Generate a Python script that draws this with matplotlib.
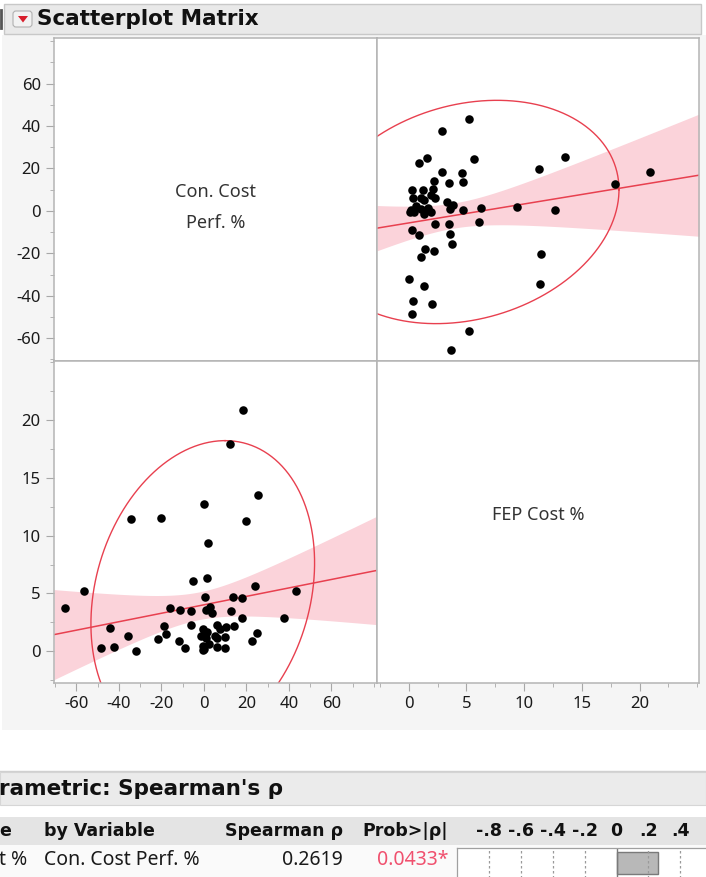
"""
Scatterplot matrix of FEP Cost % against Con. Cost Perf. % with the
nonparametric (Spearman) summary row underneath, in the JMP report style.
"""
import matplotlib
matplotlib.use('Agg')
import matplotlib.pyplot as plt
from matplotlib.patches import Rectangle, FancyBboxPatch, Polygon
from matplotlib.ticker import FixedLocator, MultipleLocator, NullFormatter
import numpy as np

plt.rcParams['font.family'] = ['Noto Sans', 'DejaVu Sans']
plt.rcParams['axes.unicode_minus'] = False

# Data (one entry per row)
fep_cost = [5.2, 2.85, 1.6, 0.85, 5.65, 13.5, 11.3, 20.9, 17.9, 2.9,
            4.6, 4.7, 2.2, 3.5, 0.25, 1.2, 2.1, 0.35, 1.9, 2.3,
            1.1, 1.3, 3.3, 3.85, 3.55, 0.2, 0.45, 0.1, 1.7, 1.1,
            1.9, 1.3, 4.7, 6.3, 9.4, 12.7, 6.1, 2.3, 3.5, 0.3,
            0.85, 3.6, 3.75, 1.45, 2.2, 1.05, 11.5, 0.05, 1.35, 11.4,
            0.4, 2.05, 0.25, 5.2, 3.7, 0.6]
con_cost = [43.3, 37.8, 25.0, 22.5, 24.3, 25.5, 19.7, 18.5, 12.5, 18.2,
            18.0, 13.8, 14.2, 13.0, 9.8, 9.8, 10.3, 6.2, 7.6, 6.2,
            6.1, 5.3, 4.0, 2.8, 1.0, 0.3, -0.3, -0.5, 1.6, 0.8,
            -0.5, -1.5, 0.6, 1.3, 2.0, 0.3, -5.2, -6.1, -6.2, -8.8,
            -11.5, -11.0, -15.8, -17.8, -18.8, -21.5, -20.3, -32.0, -35.5, -34.5,
            -42.5, -44.0, -48.5, -56.5, -65.5, 2.4]

fep_label = 'FEP Cost %'
con_label = 'Con. Cost\nPerf. %'
fep_limits = (-2.75, 25.15)
con_limits = (-70.5, 81.5)
fep_ticks = [0, 5, 10, 15, 20]
con_ticks = [-60, -40, -20, 0, 20, 40, 60]

# Density ellipse as drawn in the report (fep, con)
ellipse_center = (5.0, -0.5)
ellipse_sd = (5.4, 21.5)
ellipse_r = 0.20
ellipse_coverage = 0.95
t_crit = 2.005

# Spearman summary row
spearman_variable = 't %'
spearman_by = 'Con. Cost Perf. %'
spearman_rho = 0.2619
spearman_p = 0.0433
scale_ticks = [-0.8, -0.6, -0.4, -0.2, 0.0, 0.2, 0.4, 0.6]
scale_labels = ['-.8', '-.6', '-.4', '-.2', '0', '.2', '.4', '.']

W, H = 706, 877
RED = '#e8404f'
BAND = '#fbd3da'
EDGE = '#b4b4b4'
BOLD = dict(family=['DejaVu Sans'], fontweight='bold', color='#111111')


def px_axes(fig, x0, y0, x1, y1):
    """Add an axes given its box in pixels from the top left corner."""
    return fig.add_axes([x0 / W, 1 - y1 / H, (x1 - x0) / W, (y1 - y0) / H])


def fit_band(x, y, xs):
    """Least squares line and 95% confidence band for the mean."""
    x = np.asarray(x, float)
    y = np.asarray(y, float)
    n = len(x)
    b, a = np.polyfit(x, y, 1)
    resid = y - (a + b * x)
    s = np.sqrt(np.sum(resid ** 2) / (n - 2))
    sxx = np.sum((x - x.mean()) ** 2)
    fit = a + b * xs
    half = t_crit * s * np.sqrt(1.0 / n + (xs - x.mean()) ** 2 / sxx)
    return fit, fit - half, fit + half


def ellipse_points():
    """Points on the density ellipse, returned as (fep, con)."""
    sx, sy = ellipse_sd
    cov = np.array([[sx * sx, ellipse_r * sx * sy],
                    [ellipse_r * sx * sy, sy * sy]])
    chol = np.linalg.cholesky(cov)
    radius = np.sqrt(-2 * np.log(1 - ellipse_coverage))
    t = np.linspace(0, 2 * np.pi, 300)
    circle = np.vstack([np.cos(t), np.sin(t)]) * radius
    pts = chol @ circle
    return pts[0] + ellipse_center[0], pts[1] + ellipse_center[1]


def style_panel(ax):
    ax.set_facecolor('white')
    for spine in ax.spines.values():
        spine.set_color(EDGE)
        spine.set_linewidth(1.1)
    ax.tick_params(which='both', color='#a8a8a8', labelcolor='#1a1a1a',
                   labelsize=12, direction='out')
    ax.tick_params(which='major', length=5.5, pad=4)
    ax.tick_params(which='minor', length=3)
    ax.tick_params(left=False, bottom=False, labelleft=False, labelbottom=False, which='both')


def scatter_panel(ax, x, y, xlim, ylim, ex, ey):
    xs = np.linspace(xlim[0], xlim[1], 200)
    fit, lo, hi = fit_band(x, y, xs)
    ax.fill_between(xs, lo, hi, color=BAND, lw=0, zorder=1)
    ax.plot(xs, fit, color=RED, lw=1.1, zorder=2)
    ax.plot(ex, ey, color=RED, lw=1.0, zorder=2)
    ax.scatter(x, y, s=38, color='black', lw=0, zorder=3)
    ax.set_xlim(xlim)
    ax.set_ylim(ylim)


fig = plt.figure(figsize=(W / 100, H / 100), dpi=100, facecolor='white')

# Background layer in pixel coordinates
bg = fig.add_axes([0, 0, 1, 1])
bg.set_xlim(0, W)
bg.set_ylim(H, 0)
bg.axis('off')
bg.set_zorder(-1)

bg.add_patch(Rectangle((2, 35), W - 2, 695, fc='#f5f5f5', ec='none'))

# Report title bar
bg.add_patch(Rectangle((4, 4), 697, 30, fc='#e9e9e9', ec='#c8c8c8', lw=1))
bg.plot([1, 1], [10, 28], color='#555555', lw=2)
bg.add_patch(FancyBboxPatch((13, 11), 19, 16, boxstyle='round,pad=0,rounding_size=3',
                            fc='#f2f2f2', ec='#b0b0b0', lw=0.8))
bg.add_patch(Polygon([(18, 16), (28, 16), (23, 22.5)], closed=True, fc='#d81e2c', ec='none'))
bg.text(37, 19, 'Scatterplot Matrix', fontsize=15.5, va='center', ha='left', **BOLD)

# Scatterplot matrix panels
x_left, x_mid, x_right = 54, 377, 699
y_top, y_mid, y_bot = 38, 360.5, 683

ex, ey = ellipse_points()

ax_tl = px_axes(fig, x_left, y_top, x_mid, y_mid)
ax_tr = px_axes(fig, x_mid, y_top, x_right, y_mid)
ax_bl = px_axes(fig, x_left, y_mid, x_mid, y_bot)
ax_br = px_axes(fig, x_mid, y_mid, x_right, y_bot)
for ax in (ax_tl, ax_tr, ax_bl, ax_br):
    style_panel(ax)

# Diagonal labels
ax_tl.set_xlim(con_limits)
ax_tl.set_ylim(con_limits)
ax_tl.text(0.5, 0.475, con_label, transform=ax_tl.transAxes, ha='center', va='center',
           fontsize=13, color='#333333', linespacing=1.9)
ax_br.set_xlim(fep_limits)
ax_br.set_ylim(fep_limits)
ax_br.text(0.5, 0.52, fep_label, transform=ax_br.transAxes, ha='center', va='center',
           fontsize=13, color='#333333')

# Off-diagonal scatter plots
scatter_panel(ax_tr, fep_cost, con_cost, fep_limits, con_limits, ex, ey)
scatter_panel(ax_bl, con_cost, fep_cost, con_limits, fep_limits, ey, ex)

# Left axis (Con. Cost on top row, FEP Cost on bottom row)
ax_tl.tick_params(left=True, labelleft=True, which='both')
ax_tl.yaxis.set_major_locator(FixedLocator(con_ticks))
ax_tl.yaxis.set_minor_locator(MultipleLocator(10))
ax_bl.tick_params(left=True, labelleft=True, which='both')
ax_bl.yaxis.set_major_locator(FixedLocator(fep_ticks))
ax_bl.yaxis.set_minor_locator(MultipleLocator(2.5))

# Bottom axis
ax_bl.tick_params(bottom=True, labelbottom=True, which='both')
ax_bl.xaxis.set_major_locator(FixedLocator(con_ticks))
ax_bl.xaxis.set_minor_locator(MultipleLocator(10))
ax_br.tick_params(bottom=True, labelbottom=True, which='both')
ax_br.xaxis.set_major_locator(FixedLocator(fep_ticks))
ax_br.xaxis.set_minor_locator(MultipleLocator(2.5))
for ax in (ax_tl, ax_bl, ax_br):
    ax.xaxis.set_minor_formatter(NullFormatter())
    ax.yaxis.set_minor_formatter(NullFormatter())

# Nonparametric table
bg.plot([0, W], [771, 771], color='#d0d0d0', lw=1)
bg.add_patch(Rectangle((0, 772), W, 33, fc='#ebebeb', ec='#d6d6d6', lw=0.8))
bg.text(-1, 789, "rametric: Spearman's \u03c1", fontsize=15.5, va='center', ha='left', **BOLD)
bg.add_patch(Rectangle((0, 817), W, 28, fc='#e4e4e4', ec='none'))
bg.add_patch(Rectangle((0, 845), W, 32, fc='#fafafa', ec='none'))

head_y, row_y = 831, 860
bg.text(-1, head_y, 'e', fontsize=12.5, va='center', ha='left', **BOLD)
bg.text(44, head_y, 'by Variable', fontsize=12.5, va='center', ha='left', **BOLD)
bg.text(343, head_y, 'Spearman \u03c1', fontsize=12.5, va='center', ha='right', **BOLD)
bg.text(448, head_y, 'Prob>|\u03c1|', fontsize=12.5, va='center', ha='right', **BOLD)

bg.text(-1, row_y, spearman_variable, fontsize=14, va='center', ha='left', color='#1a1a1a')
bg.text(44, row_y, spearman_by, fontsize=14, va='center', ha='left', color='#1a1a1a')
bg.text(343, row_y, '{:.4f}'.format(spearman_rho), fontsize=14, va='center', ha='right', color='#1a1a1a')
bg.text(448, row_y, '{:.4f}*'.format(spearman_p), fontsize=14, va='center', ha='right', color='#f0506e')

# Small bar chart of rho on a -1..1 scale
ax_bar = px_axes(fig, 457, 848, 776, 878)
ax_bar.set_xlim(-1, 1)
ax_bar.set_ylim(0, 1)
ax_bar.set_facecolor('white')
for spine in ax_bar.spines.values():
    spine.set_color('#a0a0a0')
    spine.set_linewidth(0.9)
ax_bar.set_xticks([])
ax_bar.set_yticks([])
for tick in scale_ticks:
    if tick != 0:
        ax_bar.axvline(tick, color='#9a9a9a', lw=0.9, ls=(0, (2, 2)))
ax_bar.barh(0.5, spearman_rho, left=0, height=0.72, color='#b8b8b8', edgecolor='#7a7a7a', lw=1)
ax_bar.axvline(0, color='#7a7a7a', lw=1)
for tick, label in zip(scale_ticks, scale_labels):
    ax_bar.text(tick, (878 - head_y) / 30.0, label, ha='center', va='center', fontsize=12.5,
                clip_on=False, **BOLD)

fig.savefig('out.png', dpi=100, facecolor=fig.get_facecolor())
plt.close('all')
